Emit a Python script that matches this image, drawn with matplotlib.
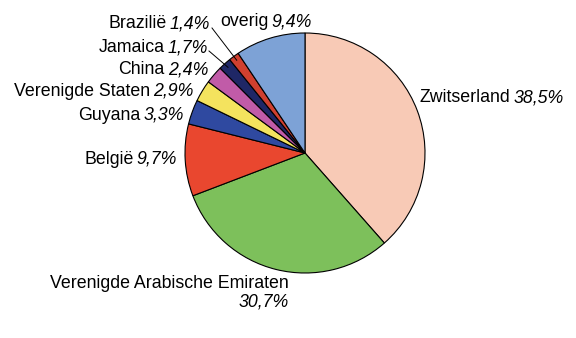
import matplotlib
matplotlib.use('Agg')
import matplotlib.pyplot as plt
import numpy as np

# Data: share per country (clockwise from the top)
countries = ['Zwitserland', 'Verenigde Arabische Emiraten', 'België', 'Guyana',
             'Verenigde Staten', 'China', 'Jamaica', 'Brazilië', 'overig']
shares = [38.5, 30.7, 9.7, 3.3, 2.9, 2.4, 1.7, 1.4, 9.4]
colors = ['#F8CAB6', '#7DC05B', '#E9472F', '#2F49A0', '#F4E35E',
          '#C15BA8', '#1F2766', '#D0402F', '#7DA2D6']

plt.rcParams['font.family'] = ['Liberation Sans', 'DejaVu Sans']
W, H = 576, 338
fig = plt.figure(figsize=(W / 100, H / 100), dpi=100)
ax = fig.add_axes([0, 0, 1, 1])
ax.set_xlim(0, W)
ax.set_ylim(0, H)
ax.axis('off')

wedges, _ = ax.pie(shares, colors=colors, startangle=90, counterclock=False,
                   center=(305, H - 153), radius=120,
                   wedgeprops=dict(edgecolor='black', linewidth=0.8))
ax.set_xlim(0, W)
ax.set_ylim(0, H)
ax.set_aspect('auto')

fs = 12.8
renderer = fig.canvas.get_renderer()


def fmt(v):
    return f'{v:.1f}'.replace('.', ',') + '%'


def label(name, pct, x, y, ha='right'):
    # name in regular, percentage in italic; (x, y) is the right end (ha='right')
    # or the left start (ha='left') of the whole label, y in image pixels from top
    yy = H - y
    if ha == 'right':
        t = ax.text(x, yy, fmt(pct), style='italic', fontsize=fs, ha='right', va='center')
        bb = t.get_window_extent(renderer)
        ax.text(bb.x0 - 3, yy, name, fontsize=fs, ha='right', va='center')
    else:
        t = ax.text(x, yy, name, fontsize=fs, ha='left', va='center')
        bb = t.get_window_extent(renderer)
        ax.text(bb.x1 + 3, yy, fmt(pct), style='italic', fontsize=fs, ha='left', va='center')


label(countries[0], shares[0], 420, 98, ha='left')
label(countries[2], shares[2], 177, 159)
label(countries[3], shares[3], 184, 115)
label(countries[4], shares[4], 193, 91)
label(countries[5], shares[5], 208, 70)
label(countries[6], shares[6], 208, 48)
label(countries[7], shares[7], 210, 24)
label(countries[8], shares[8], 220, 22, ha='left')

# Verenigde Arabische Emiraten on two lines
ax.text(289, H - 283, countries[1], fontsize=fs, ha='right', va='center')
ax.text(289, H - 302, fmt(shares[1]), style='italic', fontsize=fs, ha='right', va='center')

# leader lines for the two smallest slices
for i, (tx, ty) in [(6, (209, 51)), (7, (212, 28))]:
    w = wedges[i]
    ang = np.deg2rad((w.theta1 + w.theta2) / 2)
    cx, cy = w.center
    r = w.r * 0.96
    ax.plot([tx, cx + r * np.cos(ang)], [H - ty, cy + r * np.sin(ang)],
            color='black', linewidth=0.7)

fig.savefig('out.png', dpi=100)
